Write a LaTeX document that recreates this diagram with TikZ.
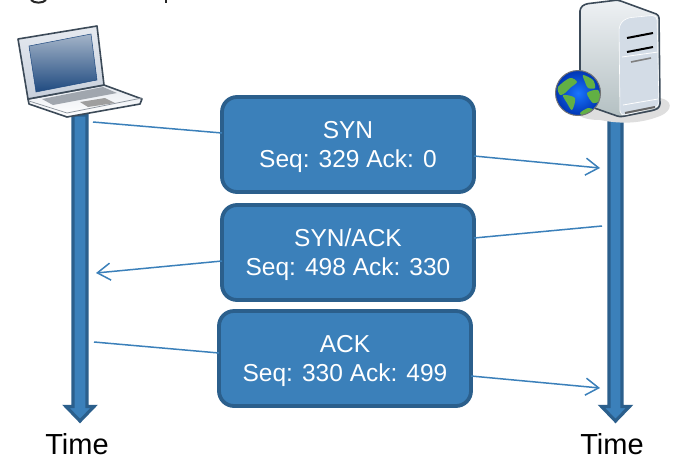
\documentclass[tikz,border=0pt]{standalone}
\usepackage{fontspec}
\setmainfont{Liberation Sans}
\usetikzlibrary{arrows.meta}
\definecolor{boxfill}{HTML}{3B80BA}
\definecolor{boxedge}{HTML}{2B5F8C}
\definecolor{linkblue}{HTML}{3B80BA}
\definecolor{devedge}{HTML}{3C4A58}
\definecolor{globegreen}{HTML}{62B044}
\definecolor{panel}{HTML}{D3DCE6}
\definecolor{screentop}{HTML}{A4B4C8}
\definecolor{screenbot}{HTML}{1F4A80}
\definecolor{frametop}{HTML}{E6EAF0}
\definecolor{framebot}{HTML}{C8D0DC}
\definecolor{bodytop}{HTML}{EEF1F4}
\definecolor{bodybot}{HTML}{B4C0C2}
\newcommand{\lowerfirst}{\rule{0pt}{22pt}}
\tikzset{
  msg/.style={draw=boxedge,fill=boxfill,line width=3.8pt,rounded corners=15pt,minimum width=252pt,minimum height=95pt,outer sep=0pt,inner sep=0pt,text=white,align=center,font=\fontsize{24.5}{29}\selectfont},
  link/.style={draw=linkblue,line width=1.5pt},
  linkhead/.style={link,-{Straight Barb[length=13pt,width=17pt,line width=1.5pt]}},
  timeline/.style={draw=boxedge,fill=boxfill,line width=3.2pt,line join=miter,miter limit=8},
  timelabel/.style={font=\fontsize{29}{30}\selectfont,text=black,inner sep=0pt,anchor=base},
  device/.style={draw=devedge,line width=1.6pt,line join=round}
}
\begin{document}
\begin{tikzpicture}[x=1pt,y=-1pt]
\useasboundingbox (0,0) rectangle (687,464);
\fill[white] (0,0) rectangle (687,464);
% clipped title remnants
\draw[black!85,line width=2pt] (31,0) .. controls (34,3.5) and (43,3.5) .. (46,0);
\draw[black!85,line width=2pt] (166,0) -- (166,3);
% time arrows
\path[timeline] (73,115) -- (73,406.5) -- (66,406.5) -- (80,421) -- (94,406.5) -- (87,406.5) -- (87,115) -- cycle;
\path[timeline] (609,118) -- (609,406.5) -- (601.5,406.5) -- (615.5,421) -- (629.5,406.5) -- (622,406.5) -- (622,118) -- cycle;
% laptop
\path[device,top color=frametop,bottom color=white] (28,99) -- (104,85) -- (142,99) -- (140,104) -- (67,117) -- (29,104) -- cycle;
\fill[framebot!75!black!90] (42,99) -- (103,87) -- (117,93) -- (53,105) -- cycle;
\fill[black!38] (80,102) -- (105,98) -- (115,103) -- (88,107) -- cycle;
\draw[devedge!60,line width=.7pt] (29,101) -- (67,113) -- (142,98);
\path[device,top color=frametop,bottom color=framebot] (18,39) -- (97,26) -- (104,85) -- (28,99) -- cycle;
\path[top color=screentop,bottom color=screenbot,draw=screenbot,line width=.5pt] (29,46) -- (91,34) -- (97,80) -- (36,92) -- cycle;
% server
\fill[black!13] (578,110) .. controls (600,112) and (640,98) .. (660,98) .. controls (672,100) and (674,110) .. (660,116) .. controls (640,124) and (620,124) .. (600,120) .. controls (585,120) and (575,116) .. cycle;
\path[device,top color=bodytop,bottom color=bodybot,rounded corners=3pt] (580,8) -- (585,4) -- (618,0) -- (659,15) -- (660,107) -- (655,110) -- (620,117) -- (580,103) -- cycle;
\path[fill=panel,draw=white,line width=.6pt,rounded corners=5pt] (619,25) -- (626,18) -- (657,15) -- (659,107) -- (620,116) -- cycle;
\draw[black,line width=2pt] (627,38) -- (653,33);
\draw[black,line width=2pt] (627,52) -- (653,47);
\draw[black!50,line width=1.6pt] (631,62) -- (651,58);
\draw[white,line width=.8pt] (622,57) -- (658,52);
\draw[white,line width=.8pt] (623,105) -- (658,99);
\draw[black!60,line width=2pt] (625,113) -- (655,107);
% globe
\begin{scope}
\path[clip] (578,93) circle (22.5);
\shade[inner color=blue!60!cyan!90,outer color=blue!70!cyan!70!black] (578,93) circle (22.5);
\fill[globegreen] plot[smooth cycle] coordinates {(583,75) (593,80) (595,88) (588,88) (585,82)};
\fill[globegreen] plot[smooth cycle] coordinates {(587,93) (598,90) (600,100) (593,103)};
\fill[globegreen] plot[smooth cycle] coordinates {(558,87) (570,78) (577,82) (570,88) (565,93) (560,95)};
\fill[globegreen] plot[smooth cycle] coordinates {(563,95) (575,98) (572,110) (567,103)};
\fill[globegreen] plot[smooth cycle] coordinates {(580,113) (588,108) (593,110) (585,116)};
\end{scope}
\draw[black!55,line width=1pt] (578,93) circle (22.5);
% message boxes
\node[msg] (syn) at (348,144.5) {\lowerfirst SYN\\Seq: 329 Ack: 0};
\node[msg] (synack) at (348,252.5) {\lowerfirst SYN/ACK\\Seq: 498 Ack: 330};
\node[msg] (ack) at (345,358.5) {\lowerfirst ACK\\Seq: 330 Ack: 499};
% free ends
\coordinate (a1) at (93,122);
\coordinate (a2) at (600,168);
\coordinate (b1) at (602,226);
\coordinate (b2) at (96,273);
\coordinate (c1) at (94,342);
\coordinate (c2) at (600,388);
% connectors
\draw[link] (a1) -- ([yshift=11.5pt]syn.west);
\draw[linkhead] ([yshift=-11.5pt]syn.east) -- (a2);
\draw[link] (b1) -- ([yshift=14.5pt]synack.east);
\draw[linkhead] ([yshift=-8.5pt]synack.west) -- (b2);
\draw[link] (c1) -- ([yshift=5.5pt]ack.west);
\draw[linkhead] ([yshift=-17.5pt]ack.east) -- (c2);
% labels
\node[timelabel] (t1) at (77,454) {Time};
\node[timelabel] (t2) at (612,454) {Time};
\end{tikzpicture}
\end{document}
